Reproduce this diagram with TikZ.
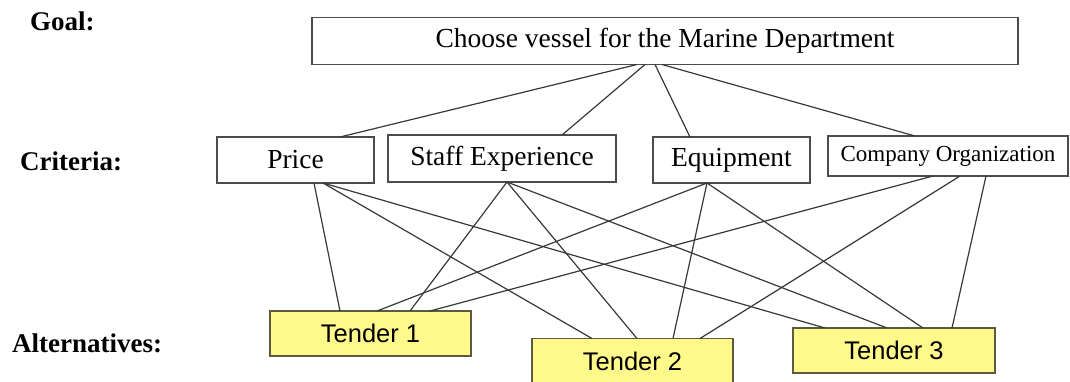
\documentclass[tikz,border=0pt]{standalone}
\usepackage{fontspec}
\setmainfont{Liberation Serif}
\newfontfamily\arialfont{Liberation Sans}
\begin{document}
\begin{tikzpicture}[x=1pt,y=-1pt,
  levelbox/.style={draw=black!70, line width=1.6pt, fill=white, inner sep=0pt, outer sep=0pt,
    font=\fontsize{27.5}{32}\selectfont},
  tenderbox/.style={draw=black!55!yellow!60!black, line width=1.4pt, fill=yellow!45, inner sep=0pt, outer sep=0pt,
    minimum width=201pt, minimum height=45pt, font=\arialfont\fontsize{25.5}{30}\selectfont},
  rowlabel/.style={font=\bfseries\fontsize{27}{32}\selectfont, anchor=west, inner sep=0pt},
  link/.style={draw=black!78, line width=1.2pt}]
\useasboundingbox (0,0) rectangle (1070,381);

% level labels
\node[rowlabel] (lgoal) at (30,21) {Goal:};
\node[rowlabel] (lcrit) at (20,161) {Criteria:};
\node[rowlabel] (lalt)  at (12,343) {Alternatives:};

% goal
\node[levelbox, minimum width=706pt, minimum height=47pt] (goal) at (665,41) {Choose vessel for the Marine Department};

% criteria
\node[levelbox, minimum width=157pt, minimum height=46pt] (price) at (295.5,160) {Price};
\node[levelbox, minimum width=228pt, minimum height=47pt] (staff) at (502,158.5) {Staff Experience};
\node[levelbox, minimum width=157pt, minimum height=46pt] (equip) at (731.5,160) {Equipment};
\node[levelbox, minimum width=240pt, minimum height=40pt, font=\fontsize{23}{27}\selectfont] (comp) at (948,156) {Company Organization};

% alternatives
\node[tenderbox] (t1) at (370.5,333.5) {Tender 1};
\node[tenderbox] (t2) at (632.5,361) {Tender 2};
\node[tenderbox, minimum width=202pt] (t3) at (894,350.5) {Tender 3};

% goal to criteria
\draw[link] ([xshift=-28pt]goal.south) -- ([xshift=44.5pt]price.north);
\draw[link] ([xshift=-20pt]goal.south) -- ([xshift=60pt]staff.north);
\draw[link] ([xshift=-10pt]goal.south) -- ([xshift=-41.5pt]equip.north);
\draw[link] ([xshift=-3pt]goal.south)  -- ([xshift=-33pt]comp.north);

% criteria to alternatives
\draw[link] ([xshift=18.5pt]price.south) -- ([xshift=-30.5pt]t1.north);
\draw[link] ([xshift=27.5pt]price.south) -- ([xshift=-40.5pt]t2.north);
\draw[link] ([xshift=27.5pt]price.south) -- ([xshift=-69pt]t3.north);

\draw[link] ([xshift=5pt]staff.south) -- ([xshift=39.5pt]t1.north);
\draw[link] ([xshift=5pt]staff.south) -- ([xshift=4.5pt]t2.north);
\draw[link] ([xshift=5pt]staff.south) -- ([xshift=-7pt]t3.north);

\draw[link] ([xshift=-24.5pt]equip.south) -- ([xshift=6.5pt]t1.north);
\draw[link] ([xshift=-24.5pt]equip.south) -- ([xshift=40.5pt]t2.north);
\draw[link] ([xshift=-24.5pt]equip.south) -- ([xshift=29pt]t3.north);

\draw[link] ([xshift=-15pt]comp.south) -- ([xshift=59.5pt]t1.north);
\draw[link] ([xshift=12pt]comp.south)  -- ([xshift=67.5pt]t2.north);
\draw[link] ([xshift=38pt]comp.south)  -- ([xshift=58pt]t3.north);
\end{tikzpicture}
\end{document}
